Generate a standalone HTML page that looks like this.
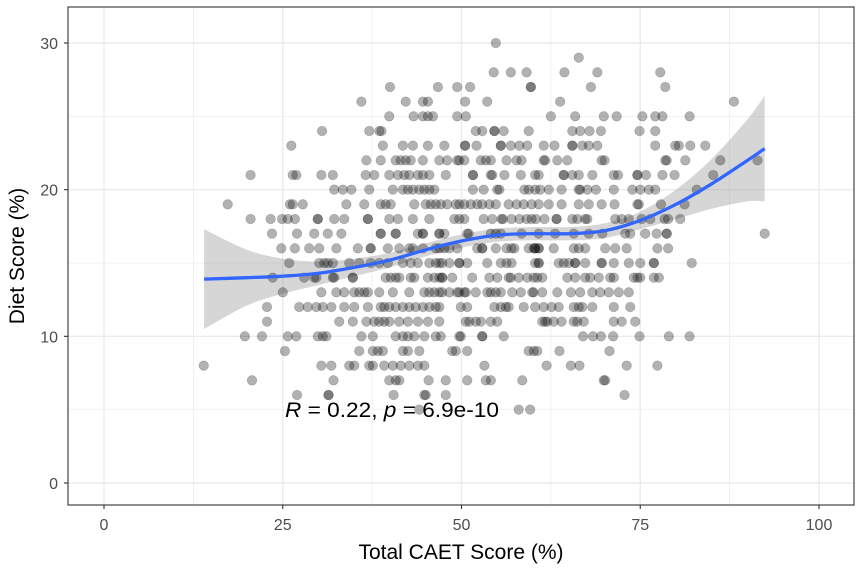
<!DOCTYPE html>
<html><head><meta charset="utf-8"><style>
html,body{margin:0;padding:0;background:#fff;width:862px;height:571px;overflow:hidden}
svg{display:block;font-family:"Liberation Sans",sans-serif}
</style></head><body>
<svg id="chart" width="862" height="571" viewBox="0 0 862 571" xmlns="http://www.w3.org/2000/svg">
<g id="grid"></g>
<g id="band"></g>
<g id="pts"></g>
<g id="line"></g>
<rect x="68" y="7" width="786" height="498" fill="none" stroke="#333" stroke-width="1.1"/>
<g id="axes"></g>
<text x="285" y="417" font-size="21" fill="#000" textLength="214" lengthAdjust="spacingAndGlyphs"><tspan font-style="italic">R</tspan> = 0.22, <tspan font-style="italic">p</tspan> = 6.9e-10</text>
<text x="461" y="559" font-size="21" text-anchor="middle" fill="#000">Total CAET Score (%)</text>
<text transform="translate(24,256) rotate(-90)" font-size="21" text-anchor="middle" fill="#000">Diet Score (%)</text>
</svg>
<script>
const xTicks=[0,25,50,75,100];
const yTicks=[0,10,20,30];
const dietScores=[30,29,28,27,26,25,24,23,22,21,20,19,18,17,16,15,14,13,12,11,10,9,8,7,6,5];
const caetRows=[
[54.8],
[66.4],
[54.5,56.9,59.1,64.4,69,77.8],
[40,46.7,49.4,51.2,59.7,59.7,68.1,78.5],
[36,42.2,44.6,45.3,50.5,53.6,63.8,88.1],
[39.9,43.3,44.6,45.3,46,49.4,50.6,62.5,65.9,69.9,71.7,75.3,77.1,78.1,81.9],
[30.5,37.1,38.5,38.8,52,52.9,54.6,54.6,55.9,59.4,65.5,66.6,67.9,69.5,74.9,77.1],
[26.2,39,41.8,43.2,45.3,47.6,50.5,50.5,52.1,55.5,55.5,56.9,58.1,59.2,61.5,63,65.5,65.5,66.9,67.8,69,77.1,79.9,80.4,82,84.1],
[36.7,38.7,40.8,41.5,42.2,42.9,44.6,46.9,48,49.4,49.7,50.4,52.7,53.4,54.1,56.3,57.7,58.4,61.5,61.7,63.4,64.8,69.6,70,78.5,78.7,81.3,86.2,91.4],
[20.5,26.4,26.9,30.4,32,36.6,37.8,39.9,41.1,42,42.7,43.9,44.6,45.5,47.8,51.6,51.6,54.1,54.3,56,58.3,60.3,60.8,64.3,64.3,65.5,66.4,68.3,71.3,71.9,74.6,74.6,75.8,78.1,79.8,85.2],
[32.2,33.4,34.6,37.1,40.4,41.8,42.5,43.2,44.1,44.8,45.5,46.2,51.6,53.1,55,55.3,58.8,59.4,60.3,61,62.2,64,66.4,66.6,67.6,68.8,71.3,73.9,75,76.2,77.1,82.9],
[17.3,26,26.4,27.8,33.9,36.4,38.7,39.4,40.1,43.4,45,45.7,46.4,47.1,48,49.2,49.7,50.4,51.3,52.2,52.9,53.9,54.8,56.6,57.7,58.7,59.8,60.8,62.2,64,66.4,67.8,69.6,71.4,74.6,74.8,77.9,81.2],
[20.5,23.3,24.9,25.7,26.7,29.9,29.9,32.2,33.6,36.9,36.9,39.9,41.1,43.2,45.5,49,49.7,50.4,53.1,54.3,55.6,55.8,57,58.1,59.1,59.8,60.4,61.6,63.3,63.3,65.5,66.2,67.3,67.6,71.5,72.4,73.4,75.2,76.4,78.4,78.9,80.6],
[23.5,27,29.4,31.3,33.2,38.7,38.7,40.8,40.8,43.9,44.6,44.6,46.9,46.9,47.6,50.8,51,54.1,54.8,55.5,58.4,60.8,63.1,65.7,67.8,69.7,72.9,73.6,75.7,77.3,78.7,78.7,92.4],
[24.8,26.7,28.7,30.1,32.5,35.5,37.3,37.3,39.7,41.3,42.7,43.2,44.6,46.4,46.9,47.6,48.3,49.4,52.2,52.9,52.9,54.8,56.3,57,57.4,59.4,60.1,60.3,60.3,60.8,60.8,62.9,65.7,66.4,67.3,70.1,71.5,73.1,77.4,78.9],
[25.9,30.1,30.8,31.3,32,34.3,35.7,37.3,38.5,39.7,41.8,42.9,43.9,45.5,46.4,46.9,47.3,48.3,49.7,49.7,50.8,53.6,55.5,56.3,57,60.3,60.8,60.8,63.6,64.3,65,65.9,65.9,67.3,69.6,69.6,71.3,73.4,75,76.9,76.9,82.2],
[23.6,28,29.4,29.7,32,32.2,34.8,34.8,39.4,40.1,40.8,41.3,42.9,43.4,45.3,46.2,46.9,47.3,47.3,48.7,51.5,53.9,55,56.6,56.9,58,59.2,60.1,60.6,61.3,64.8,65.9,67.3,68,69.2,70.8,71.3,74.1,74.6,75,76.9,77.6],
[25,30.4,32.5,33.6,35,35.7,36.4,36.9,38.5,40.4,42.7,44.8,45.5,46.2,46.9,47.3,48.3,49.4,49.7,50.4,50.6,52,53.6,54.1,54.8,55.5,57.1,58.3,59.9,60.1,61.3,63.4,65.3,66.6,68.3,69.4,70.6,72,73.4],
[22.8,27.3,28.5,29.7,30.6,31.8,33.6,35,36.9,38.7,39.2,39.9,40.8,41.8,42.7,43.6,44.6,45.5,46.4,46.9,49.9,50.8,54.6,55.5,56.2,56.6,58.7,60.3,61.5,62.6,63.6,65.7,66.4,66.9,68.3,71.3,73.6],
[22.8,32.9,34.8,36.7,37.8,38.5,39.2,39.9,41.3,42.5,43.9,45.3,46.9,50.6,51.1,52,52.7,54.1,55,61.3,61.7,62,62.9,64,65.7,66.2,67.1,71.3,72.4,74.3],
[19.7,22.1,25.7,26.9,29.9,30.6,31.1,36,37.6,40.8,41.8,42.5,43.4,44.8,46.4,47.1,49.7,49.9,52.9,52.9,55.9,67,68.4,69.5,71.2,74.9,79,81.9],
[25.3,35.7,37.6,38.3,39,41.8,42.5,44.1,48.7,49.2,50.8,59.4,60.1,60.6,63.7,70.7],
[13.95,30.4,31.8,34.3,35,37.1,37.6,39.2,40.4,41.5,42.7,43.9,44.8,53.2,61.9,65.3,66.5,73.1,77.4],
[20.7,32.1,39.9,40.8,41.3,45.4,47.8,50.8,53.4,54.1,58.5,69.9,70.1],
[27,31.4,31.4,40.5,44.8,45,47.8,72.8],
[44.1,58,59.6]
];
const smoothX=[14,20,25,30,35,40,45,50,55,60,65,70,75,80,85,90,92.4];
const smoothY=[13.9,14.0,14.1,14.3,14.7,15.2,15.9,16.5,16.9,17.0,17.0,17.2,17.9,19.0,20.4,22.0,22.8];
const bandHalf=[3.4,1.9,1.2,0.8,0.6,0.5,0.45,0.45,0.45,0.45,0.45,0.5,0.6,1.0,1.7,2.8,3.6];

const NS="http://www.w3.org/2000/svg";
const X=v=>104+v*(819-104)/100;
const Y=v=>483-v*(483-43)/30;
function mk(tag,attrs,parent){const e=document.createElementNS(NS,tag);for(const k in attrs)e.setAttribute(k,attrs[k]);parent.appendChild(e);return e;}
function smoothPath(p,start){let d=(start?'M':'L')+p[0][0]+','+p[0][1];
for(let i=0;i<p.length-1;i++){const p0=p[i-1]||p[i],p1=p[i],p2=p[i+1],p3=p[i+2]||p2;
d+='C'+(p1[0]+(p2[0]-p0[0])/6)+','+(p1[1]+(p2[1]-p0[1])/6)+' '+(p2[0]-(p3[0]-p1[0])/6)+','+(p2[1]-(p3[1]-p1[1])/6)+' '+p2[0]+','+p2[1];}
return d;}
const grid=document.getElementById('grid'),axes=document.getElementById('axes');
[12.5,37.5,62.5,87.5].forEach(v=>{const l=mk('line',{x1:X(v),x2:X(v),y1:7,y2:505,stroke:'#ebebeb','stroke-width':0.7},grid);

});
[5,15,25].forEach(v=>{const l=mk('line',{x1:68,x2:854,y1:Y(v),y2:Y(v),stroke:'#ebebeb','stroke-width':0.7},grid);

});
xTicks.forEach(v=>{const l=mk('line',{x1:X(v),x2:X(v),y1:7,y2:505,stroke:'#ebebeb','stroke-width':1.4},grid);


const t=mk('line',{x1:X(v),x2:X(v),y1:505,y2:509,stroke:'#333','stroke-width':1.1},axes);


const tx=mk('text',{x:X(v),y:530,'font-size':16,'text-anchor':'middle',fill:'#4d4d4d'},axes);tx.textContent=v;

});
yTicks.forEach(v=>{const l=mk('line',{x1:68,x2:854,y1:Y(v),y2:Y(v),stroke:'#ebebeb','stroke-width':1.4},grid);


const t=mk('line',{x1:64,x2:68,y1:Y(v),y2:Y(v),stroke:'#333','stroke-width':1.1},axes);


const tx=mk('text',{x:58,y:Y(v)+6,'font-size':16,'text-anchor':'end',fill:'#4d4d4d'},axes);tx.textContent=v;

});
const up=smoothX.map((x,i)=>[X(x),Y(smoothY[i]+bandHalf[i])]);
const lo=smoothX.map((x,i)=>[X(x),Y(smoothY[i]-bandHalf[i])]).reverse();
const b=mk('path',{d:smoothPath(up,true)+smoothPath(lo,false)+'Z',fill:'#999','fill-opacity':0.4},document.getElementById('band'));


const pts=document.getElementById('pts');
dietScores.forEach((y,i)=>{caetRows[i].forEach(x=>{const c=mk('circle',{cx:X(x),cy:Y(y),r:4.8,fill:'#000','fill-opacity':0.3,stroke:'#000','stroke-opacity':0.2,'stroke-width':0.7},pts);

});});
const lp=smoothX.map((x,i)=>[X(x),Y(smoothY[i])]);
const ln=mk('path',{d:smoothPath(lp,true),fill:'none',stroke:'#3366ff','stroke-width':3.3,'stroke-linejoin':'round'},document.getElementById('line'));


</script>
</body></html>
